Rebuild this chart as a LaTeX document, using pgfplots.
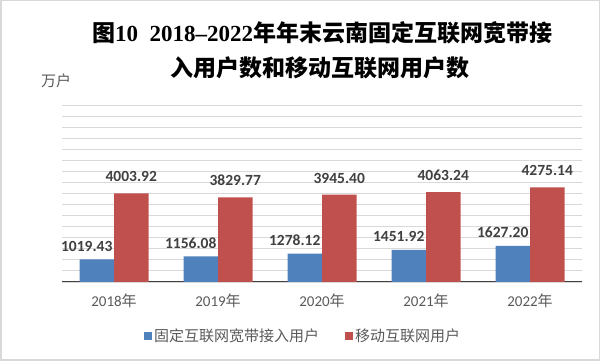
\documentclass[border=0pt]{standalone}
\usepackage{fontspec}
\usepackage{pgfplots}
\pgfplotsset{compat=1.18}
\setmainfont{Carlito}
\newfontfamily\cjk{Noto Sans CJK SC}
\newfontfamily\titlelat{Liberation Serif}
\definecolor{barblue}{HTML}{4F81BD}
\definecolor{barred}{HTML}{C0504D}
\definecolor{txtgray}{HTML}{595959}
\definecolor{lblgray}{HTML}{404040}
\definecolor{gridgray}{HTML}{D9D9D9}
\begin{document}
\begin{tikzpicture}[x=1pt,y=1pt]
\useasboundingbox (0,0) rectangle (600,361);
\draw[gridgray, line width=1.5pt] (0.75,0.75) rectangle (599.25,360.25);
\node[inner sep=0pt] at (322,328) {\fontsize{23}{27}\selectfont\cjk\bfseries 图\titlelat\bfseries 10\ \ 2018–2022\cjk\bfseries 年年末云南固定互联网宽带接};
\node[inner sep=0pt] at (320,293) {\fontsize{23}{27}\selectfont\cjk\bfseries 入用户数和移动互联网用户数};
\node[inner sep=0pt, text=txtgray] at (56,280) {\fontsize{15}{17}\selectfont\cjk 万户};
\begin{axis}[
  at={(62pt,79pt)}, anchor=south west,
  scale only axis, width=520pt, height=177pt,
  ybar=0pt, bar width=34.5pt,
  xmin=-0.5, xmax=4.5, ymin=0, ymax=8000,
  enlargelimits=false, clip=false,
  xtick={0,1,2,3,4},
  xticklabels={2018{\cjk 年},2019{\cjk 年},2020{\cjk 年},2021{\cjk 年},2022{\cjk 年}},
  ytick={0,500,...,8000}, yticklabels={},
  ymajorgrids, grid style={gridgray, line width=0.9pt},
  axis x line*=bottom, axis y line*=left,
  y axis line style={draw=none},
  x axis line style={draw=lblgray, line width=1pt},
  major tick length=0pt,
  xtick style={draw=none}, ytick style={draw=none},
  xticklabel style={font=\fontsize{15}{18}\selectfont, text=txtgray, anchor=base, yshift=-25pt},
  /pgf/number format/assume math mode=true,
  nodes near coords={\pgfmathprintnumber[fixed,zerofill,precision=2,1000 sep={}]{\pgfplotspointmeta}},
  every node near coord/.append style={font=\fontsize{15.5}{18}\selectfont\bfseries, text=lblgray, anchor=base, inner sep=0pt},
  legend columns=2,
  legend style={draw=none, fill=none, at={(0.4635,-0.305)}, anchor=center,
    font=\fontsize{15}{17}\selectfont\cjk, text=txtgray,
    /tikz/every even column/.append style={column sep=24pt}},
]
\addplot[fill=barblue, draw=none,
  every node near coord/.append style={xshift=-10pt, yshift=8pt},
  legend image code/.code={\fill[barblue] (0pt,-4pt) rectangle (8pt,4pt);}]
  coordinates {(0,1019.43) (1,1156.08) (2,1278.12) (3,1451.92) (4,1627.20)};
\addlegendentry{固定互联网宽带接入用户}
\addplot[fill=barred, draw=none,
  every node near coord/.append style={yshift=11.5pt},
  legend image code/.code={\fill[barred] (0pt,-4pt) rectangle (8pt,4pt);}]
  coordinates {(0,4003.92) (1,3829.77) (2,3945.40) (3,4063.24) (4,4275.14)};
\addlegendentry{移动互联网用户}
\end{axis}
\end{tikzpicture}
\end{document}
